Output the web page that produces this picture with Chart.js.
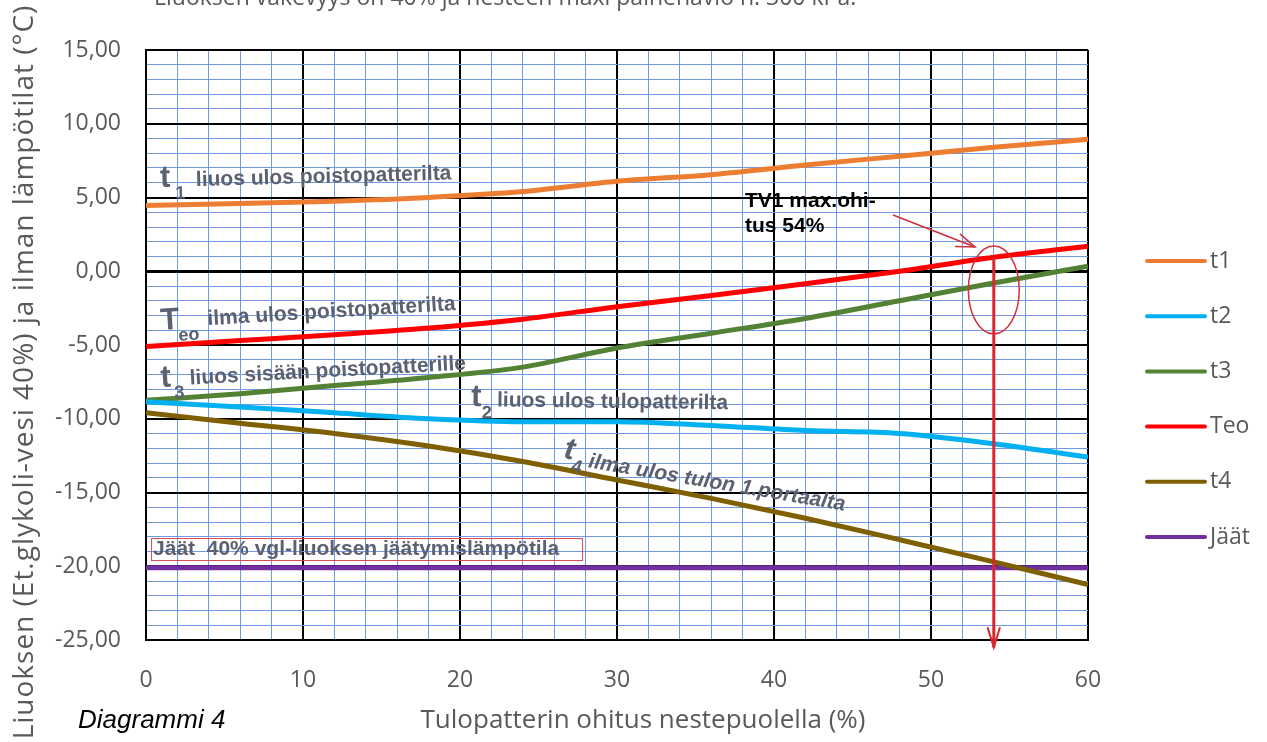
<!DOCTYPE html>
<html>
<head>
<meta charset="utf-8">
<script src="https://cdn.jsdelivr.net/npm/chart.js@4.4.1/dist/chart.umd.min.js"></script>
<style>
  html, body { margin: 0; padding: 0; background: #fff; overflow: hidden; }
</style>
</head>
<body>
<canvas id="chart" width="1267" height="742"></canvas>
<script>
const ohitus = [0, 6, 12, 18, 24, 30, 36, 42, 48, 54, 60];
const t1  = [4.45, 4.6, 4.75, 5.0, 5.4, 6.1, 6.55, 7.2, 7.8, 8.4, 8.95];
const t2  = [-8.85, -9.2, -9.6, -10.0, -10.2, -10.2, -10.45, -10.8, -11.0, -11.7, -12.6];
const t3  = [-8.75, -8.3, -7.75, -7.2, -6.5, -5.2, -4.2, -3.2, -2.0, -0.8, 0.35];
const teo = [-5.1, -4.7, -4.3, -3.85, -3.25, -2.4, -1.65, -0.85, 0.0, 0.95, 1.7];
const t4  = [-9.6, -10.3, -11.0, -11.85, -12.9, -14.15, -15.4, -16.75, -18.2, -19.7, -21.25];
const jaat = [-20.1, -20.1, -20.1, -20.1, -20.1, -20.1, -20.1, -20.1, -20.1, -20.1, -20.1];

const seriesNames = ['t1', 't2', 't3', 'Teo', 't4', 'Jäät'];
const seriesColors = ['#ED7D31', '#00B0F0', '#548235', '#FF0000', '#7F6000', '#7030A0'];
const seriesValues = [t1, t2, t3, teo, t4, jaat];

const maxOhitus = 54;   // TV1 max. ohitus
const gray = '#595959';
const labelGray = '#5c6172';
const minorBlue = '#729ae0';

Chart.defaults.font.family = '"Open Sans", sans-serif';
Chart.defaults.color = gray;

const toPoints = ys => ohitus.map((x, i) => ({ x: x, y: ys[i] }));

// curve labels, anchored in data units (x %, y °C)
const curveLabels = [
  { x: 0.9,  y: 5.71,   rot: -1.5, italic: false, main: 't', sub: '1',  subDx: 15, textDx: 36, textDy: 0,  text: 'liuos ulos poistopatterilta' },
  { x: 0.96, y: -3.98,  rot: -3.5, italic: false, main: 'T', sub: 'eo', subDx: 17, textDx: 47, textDy: -2, text: 'ilma ulos poistopatterilta' },
  { x: 0.96, y: -7.85,  rot: -3.1, italic: false, main: 't', sub: '3',  subDx: 13, textDx: 29, textDy: -1, text: 'liuos sisään poistopatterille' },
  { x: 20.7, y: -9.14,  rot: 0.7,  italic: false, main: 't', sub: '2',  subDx: 11, textDx: 26, textDy: 0,  text: 'liuos ulos tulopatterilta' },
  { x: 26.56, y: -12.66, rot: 9.6, italic: true,  main: 't', sub: '4',  subDx: 10, textDx: 26, textDy: 5,  text: 'ilma ulos tulon 1.portaalta' }
];

function drawCurveLabel(ctx, px, py, lab) {
  const st = lab.italic ? 'italic bold ' : 'bold ';
  ctx.save();
  ctx.translate(px, py);
  ctx.rotate(lab.rot * Math.PI / 180);
  ctx.fillStyle = labelGray;
  ctx.textAlign = 'left';
  ctx.textBaseline = 'alphabetic';
  ctx.font = st + '31px "Liberation Sans"';
  ctx.fillText(lab.main, 0, 0);
  ctx.font = st + '18px "Liberation Sans"';
  ctx.fillText(lab.sub, lab.subDx, 12);
  ctx.font = st + '21px "Liberation Sans"';
  ctx.fillText(lab.text, lab.textDx, lab.textDy);
  ctx.restore();
}

function arrowHead(ctx, x0, y0, x1, y1, len, spread) {
  const a = Math.atan2(y1 - y0, x1 - x0);
  ctx.beginPath();
  ctx.moveTo(x1 - len * Math.cos(a - spread), y1 - len * Math.sin(a - spread));
  ctx.lineTo(x1, y1);
  ctx.lineTo(x1 - len * Math.cos(a + spread), y1 - len * Math.sin(a + spread));
  ctx.stroke();
}

const overlay = {
  id: 'overlay',
  afterDraw(chart) {
    const ctx = chart.ctx;
    const xs = chart.scales.x;
    const ys = chart.scales.y;

    // labels along the curves
    curveLabels.forEach(lab => {
      drawCurveLabel(ctx, xs.getPixelForValue(lab.x), ys.getPixelForValue(lab.y), lab);
    });

    // Jäät label with red box
    const jx = xs.getPixelForValue(0.45);
    const jy = ys.getPixelForValue(-19.24);
    ctx.save();
    ctx.font = 'bold 21px "Liberation Sans"';
    ctx.fillStyle = labelGray;
    ctx.textBaseline = 'alphabetic';
    ctx.fillText('Jäät  40% vgl-liuoksen jäätymislämpötila', jx, jy);
    ctx.strokeStyle = '#d9474f';
    ctx.lineWidth = 1;
    ctx.strokeRect(jx - 1.5, jy - 16.5, 431, 22);
    ctx.restore();

    // TV1 max. ohitus note
    const tx = xs.getPixelForValue(38.15);
    const ty = ys.getPixelForValue(4.36);
    ctx.save();
    ctx.font = 'bold 21px "Liberation Sans"';
    ctx.fillStyle = '#000';
    ctx.fillText('TV1 max.ohi-', tx, ty);
    ctx.fillText('tus 54%', tx, ty + 25);

    // thin pointer arrow
    const ax0 = xs.getPixelForValue(47.58), ay0 = ys.getPixelForValue(3.81);
    const ax1 = xs.getPixelForValue(52.8),  ay1 = ys.getPixelForValue(1.64);
    ctx.strokeStyle = '#d0303a';
    ctx.lineWidth = 1.5;
    ctx.beginPath();
    ctx.moveTo(ax0, ay0);
    ctx.lineTo(ax1, ay1);
    ctx.stroke();
    arrowHead(ctx, ax0, ay0, ax1, ay1, 20, 0.35);

    // ellipse round the crossing
    const ex = xs.getPixelForValue(maxOhitus);
    const ey = ys.getPixelForValue(-1.27);
    const rx = xs.getPixelForValue(maxOhitus + 1.62) - ex;
    const ry = ys.getPixelForValue(-1.27 - 2.98) - ey;
    ctx.beginPath();
    ctx.ellipse(ex, ey, rx, ry, 0, 0, Math.PI * 2);
    ctx.stroke();

    // vertical arrow down from Teo at max ohitus
    const vTop = ys.getPixelForValue(teo[ohitus.indexOf(maxOhitus)]);
    const vBot = ys.getPixelForValue(-25.5);
    ctx.strokeStyle = '#d9262f';
    ctx.lineWidth = 3;
    ctx.beginPath();
    ctx.moveTo(ex, vTop);
    ctx.lineTo(ex, vBot);
    ctx.stroke();
    ctx.lineWidth = 2;
    arrowHead(ctx, ex, vTop, ex, vBot, 21, 0.3);
    ctx.restore();

    // legend on the right
    ctx.save();
    ctx.font = '23px "Open Sans"';
    ctx.textBaseline = 'middle';
    ctx.textAlign = 'left';
    chart.data.datasets.forEach((ds, i) => {
      const ly = 261 + i * 55.2;
      ctx.strokeStyle = ds.borderColor;
      ctx.lineWidth = 4;
      ctx.lineCap = 'round';
      ctx.beginPath();
      ctx.moveTo(1147, ly);
      ctx.lineTo(1205, ly);
      ctx.stroke();
      ctx.fillStyle = gray;
      ctx.fillText(ds.label, 1210, ly);
    });
    ctx.restore();

    // axis titles and texts outside the plot
    ctx.save();
    ctx.fillStyle = gray;
    ctx.textAlign = 'center';
    ctx.textBaseline = 'middle';
    ctx.font = '26px "Open Sans"';
    ctx.fillText('Tulopatterin ohitus nestepuolella (%)', 643, 721);
    ctx.save();
    ctx.translate(25, 372);
    ctx.rotate(-Math.PI / 2);
    ctx.font = '28px "Open Sans"';
    ctx.letterSpacing = '1px';
    ctx.fillText('Liuoksen (Et.glykoli-vesi 40%) ja ilman lämpötilat (°C)', 0, 0);
    ctx.restore();
    ctx.textAlign = 'left';
    ctx.textBaseline = 'alphabetic';
    ctx.font = '23px "Open Sans"';
    ctx.fillText('Liuoksen väkevyys on 40% ja nesteen maxi painehäviö n. 300 kPa.', 154, 5);
    ctx.fillStyle = '#000';
    ctx.font = 'italic 26px "Liberation Sans"';
    ctx.fillText('Diagrammi 4', 78, 728);
    ctx.restore();
  }
};

const datasets = seriesNames.map((name, i) => ({
  label: name,
  data: toPoints(seriesValues[i]),
  borderColor: seriesColors[i],
  backgroundColor: seriesColors[i],
  borderWidth: 5,
  pointRadius: 0,
  fill: false,
  cubicInterpolationMode: 'monotone'
}));

new Chart(document.getElementById('chart').getContext('2d'), {
  type: 'line',
  data: { datasets: datasets },
  options: {
    responsive: false,
    animation: false,
    layout: { padding: { top: 50, right: 179, left: 0, bottom: 0 } },
    plugins: {
      legend: { display: false },
      tooltip: { enabled: false }
    },
    scales: {
      x: {
        type: 'linear',
        min: 0,
        max: 60,
        afterFit: s => { s.height = 102; },
        ticks: {
          stepSize: 2,
          autoSkip: false,
          maxRotation: 0,
          padding: 27,
          font: { size: 23 },
          color: gray,
          callback: v => (v % 10 === 0 ? String(v) : '')
        },
        grid: {
          drawTicks: false,
          color: c => (c.tick.value % 10 === 0 ? '#000' : minorBlue),
          lineWidth: c => (c.tick.value % 10 === 0 ? 2 : 1)
        },
        border: { color: '#000', width: 2 }
      },
      y: {
        min: -25,
        max: 15,
        afterFit: s => { s.width = 146; },
        ticks: {
          stepSize: 1,
          autoSkip: false,
          padding: 25,
          font: { size: 23 },
          color: gray,
          callback: v => (v % 5 === 0 ? v.toFixed(2).replace('.', ',') : '')
        },
        grid: {
          drawTicks: false,
          color: c => (c.tick.value % 5 === 0 ? '#000' : minorBlue),
          lineWidth: c => (c.tick.value === 0 ? 3 : (c.tick.value % 5 === 0 ? 2 : 1))
        },
        border: { color: '#000', width: 2 }
      }
    }
  },
  plugins: [overlay]
});
</script>
</body>
</html>
